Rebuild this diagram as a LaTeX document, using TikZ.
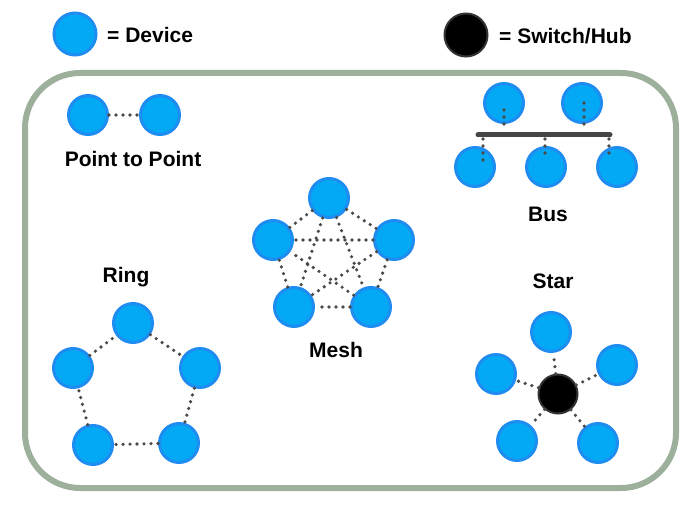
\documentclass[tikz,border=0pt]{standalone}
\usepackage{fontspec}
\setmainfont{Liberation Sans}
\usepackage{tikz}
\definecolor{devfill}{HTML}{03A9F4}
\definecolor{devline}{HTML}{1E8CF0}
\definecolor{framegreen}{HTML}{9DB09B}
\definecolor{linkgray}{HTML}{4A4A4A}
\definecolor{bargray}{HTML}{454545}
\tikzstyle{device}=[circle, draw=devline, fill=devfill, line width=3pt,
  minimum size=39pt, inner sep=0pt]
\tikzstyle{hub}=[circle, draw=black!80, fill=black, line width=2pt,
  minimum size=39pt, inner sep=0pt]
\tikzstyle{link}=[linkgray, line width=3.6pt, line cap=round,
  dash pattern=on 0pt off 7pt]
\tikzstyle{bar}=[bargray, line width=5pt, line cap=round]
\tikzstyle{caption}=[inner sep=0pt, anchor=base, font=\bfseries\fontsize{21}{24}\selectfont]

\begin{document}
\begin{tikzpicture}[x=1pt, y=-1pt]
        \useasboundingbox (0,0) rectangle (690,518);
        % legend
        \node[device, minimum size=42pt] (legdev) at (75,34) {};
        \node[caption, anchor=base west] (legdevtxt) at (107,43) {= Device};
        \node[hub, minimum size=43pt] (leghub) at (466,35) {};
        \node[caption, anchor=base west] (leghubtxt) at (499,44) {= Switch/Hub};
        % frame
        \draw[framegreen, line width=6pt, rounded corners=55pt] (25,73) rectangle (676,488);
        % point to point
        \node[device] (pa) at (88,115) {};
        \node[device] (pb) at (160,115) {};
        \draw[link] (pa) -- (pb);
        \node[caption] (ptp) at (133,167) {Point to Point};
        % bus
        \draw[bar] (478,135) coordinate (busL) -- (610,135) coordinate (busR);
        \node[device] (bt1) at (504,103) {};
        \node[device] (bt2) at (582,103) {};
        \node[device] (bb1) at (475,167) {};
        \node[device] (bb2) at (546,167) {};
        \node[device] (bb3) at (617,167) {};
        \coordinate (jt1) at (504,131);
        \coordinate (jt2) at (584,131);
        \coordinate (jb1) at (483,139);
        \coordinate (jb2) at (545,139);
        \coordinate (jb3) at (609,139);
        \draw[link] (504,110) -- (jt1);
        \draw[link] (584,103) -- (jt2);
        \draw[link] (jb1) -- (483,167);
        \draw[link] (jb2) -- (545,160);
        \draw[link] (jb3) -- (609,160);
        \node[caption] (bus) at (548,222) {Bus};
        % ring
        \node[device] (r1) at (133,323) {};
        \node[device] (r2) at (200,368) {};
        \node[device] (r3) at (179,443) {};
        \node[device] (r4) at (93,445) {};
        \node[device] (r5) at (73,368) {};
        \foreach \a/\b in {r1/r2, r2/r3, r3/r4, r4/r5, r5/r1}
                \draw[link] (\a) -- (\b);
        \node[caption] (ring) at (126,283) {Ring};
        % mesh
        \node[device] (m1) at (329,198) {};
        \node[device] (m2) at (394,240) {};
        \node[device] (m3) at (371,307) {};
        \node[device] (m4) at (294,307) {};
        \node[device] (m5) at (273,240) {};
        \foreach \a/\b in {m1/m2, m1/m3, m1/m4, m1/m5, m2/m3, m2/m4, m2/m5, m3/m4, m3/m5, m4/m5}
                \draw[link] (\a) -- (\b);
        \node[caption] (mesh) at (336,357) {Mesh};
        % star
        \node[hub] (sh) at (558,394) {};
        \node[device] (s1) at (551,332) {};
        \node[device] (s2) at (617,365) {};
        \node[device] (s3) at (598,443) {};
        \node[device] (s4) at (517,441) {};
        \node[device] (s5) at (496,374) {};
        \foreach \s in {s1, s2, s3, s4, s5}
                \draw[link] (sh) -- (\s);
        \node[caption] (star) at (553,289) {Star};
\end{tikzpicture}
\end{document}
